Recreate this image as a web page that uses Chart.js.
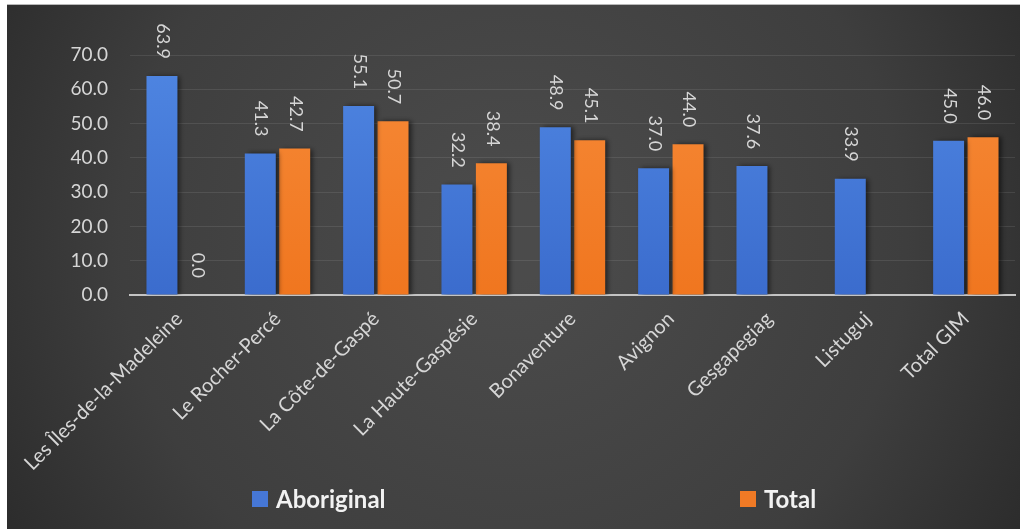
<!DOCTYPE html>
<html>
<head>
<meta charset="utf-8">
<script src="https://cdn.jsdelivr.net/npm/chart.js@4/dist/chart.umd.min.js"></script>
<style>
  html, body { margin: 0; padding: 0; background: #ffffff; }
  #wrap { position: absolute; left: 7px; top: 4px; width: 1013px; height: 525px; border-top: 1px solid #b8b8b8; box-sizing: border-box; }
  #wrap canvas { display: block; }
</style>
</head>
<body>
<div id="wrap"><canvas id="c" width="1013" height="524"></canvas></div>
<script>
const categories = [
  "Les Îles-de-la-Madeleine", "Le Rocher-Percé", "La Côte-de-Gaspé", "La Haute-Gaspésie",
  "Bonaventure", "Avignon", "Gesgapegiag", "Listuguj", "Total GIM"
];
const aboriginal = [63.9, 41.3, 55.1, 32.2, 48.9, 37.0, 37.6, 33.9, 45.0];
const total = [0.0, 42.7, 50.7, 38.4, 45.1, 44.0, null, null, 46.0];
const yTicks = [0, 10, 20, 30, 40, 50, 60, 70];

const FONT = "Lato, 'Open Sans', sans-serif";
const LABEL_COLOR = "#d6d6d6";

function vGradient(ctx, top, bottom) {
  const chart = ctx.chart;
  const area = chart.chartArea;
  if (!area) return bottom;
  const g = chart.ctx.createLinearGradient(0, area.top, 0, area.bottom);
  g.addColorStop(0, top);
  g.addColorStop(1, bottom);
  return g;
}

// dark panel with a soft lighter centre
const panelBackground = {
  id: "panelBackground",
  beforeDraw(chart) {
    const { ctx, width, height } = chart;
    ctx.save();
    const g = ctx.createRadialGradient(width * 0.5, height * 0.45, 40, width * 0.5, height * 0.45, width * 0.62);
    g.addColorStop(0, "#4b4b4b");
    g.addColorStop(0.6, "#3e3e3e");
    g.addColorStop(1, "#282828");
    ctx.fillStyle = g;
    ctx.fillRect(0, 0, width, height);
    ctx.restore();
  }
};

// soft shadow to the right of each bar
const barShadow = {
  id: "barShadow",
  beforeDatasetsDraw(chart) {
    const ctx = chart.ctx;
    ctx.save();
    ctx.shadowColor = "rgba(0,0,0,0.55)";
    ctx.shadowBlur = 5;
    ctx.shadowOffsetX = 3;
    ctx.shadowOffsetY = 0;
  },
  afterDatasetsDraw(chart) {
    chart.ctx.restore();
  }
};

// vertical value labels above each bar
const valueLabels = {
  id: "valueLabels",
  afterDatasetsDraw(chart) {
    const ctx = chart.ctx;
    ctx.save();
    ctx.font = "18px " + FONT;
    ctx.fillStyle = LABEL_COLOR;
    ctx.textAlign = "right";
    ctx.textBaseline = "middle";
    chart.data.datasets.forEach((ds, di) => {
      const meta = chart.getDatasetMeta(di);
      meta.data.forEach((bar, i) => {
        const v = ds.data[i];
        if (v === null || v === undefined) return;
        ctx.save();
        ctx.translate(bar.x + 1, bar.y - 17);
        ctx.rotate(Math.PI / 2);
        ctx.fillText(v.toFixed(1), 0, 0);
        ctx.restore();
      });
    });
    ctx.restore();
  }
};

// legend along the bottom, items spread apart
const spreadLegend = {
  id: "spreadLegend",
  afterDraw(chart) {
    const ctx = chart.ctx;
    const positions = [245, 733];
    const y = 494;
    ctx.save();
    ctx.font = "bold 24px " + FONT;
    ctx.textBaseline = "middle";
    ctx.textAlign = "left";
    chart.data.datasets.forEach((ds, i) => {
      const x = positions[i];
      ctx.fillStyle = ds.legendColor;
      ctx.fillRect(x, y - 8, 16, 16);
      ctx.fillStyle = "#f2f2f2";
      ctx.fillText(ds.label, x + 24, y + 1);
    });
    ctx.restore();
  }
};

new Chart(document.getElementById("c"), {
  type: "bar",
  data: {
    labels: categories,
    datasets: [
      {
        label: "Aboriginal",
        data: aboriginal,
        legendColor: "#4677d6",
        backgroundColor: (ctx) => vGradient(ctx, "#4f86e2", "#3b6ccd"),
        categoryPercentage: 0.70,
        barPercentage: 0.90
      },
      {
        label: "Total",
        data: total,
        legendColor: "#f07a25",
        backgroundColor: (ctx) => vGradient(ctx, "#f68a38", "#f0761f"),
        categoryPercentage: 0.70,
        barPercentage: 0.90
      }
    ]
  },
  options: {
    responsive: false,
    animation: false,
    layout: { padding: { top: 50, right: 5, bottom: 0, left: 0 } },
    plugins: {
      legend: { display: false },
      tooltip: { enabled: false },
      title: { display: false }
    },
    scales: {
      x: {
        grid: { display: false },
        border: { display: true, color: "#c4c4c4", width: 2 },
        ticks: {
          color: LABEL_COLOR,
          font: { family: FONT, size: 20 },
          maxRotation: 45,
          minRotation: 45,
          padding: 4,
          autoSkip: false
        },
        afterFit(scale) { scale.height = 234; }
      },
      y: {
        min: 0,
        max: 70,
        afterBuildTicks(scale) { scale.ticks = yTicks.map(v => ({ value: v })); },
        grid: { color: "rgba(255,255,255,0.09)", lineWidth: 1, drawTicks: false },
        border: { display: false },
        ticks: {
          color: LABEL_COLOR,
          font: { family: FONT, size: 19 },
          padding: 22,
          callback: (v) => Number(v).toFixed(1)
        },
        afterFit(scale) { scale.width = 123; }
      }
    }
  },
  plugins: [panelBackground, barShadow, valueLabels, spreadLegend]
});
</script>
</body>
</html>
